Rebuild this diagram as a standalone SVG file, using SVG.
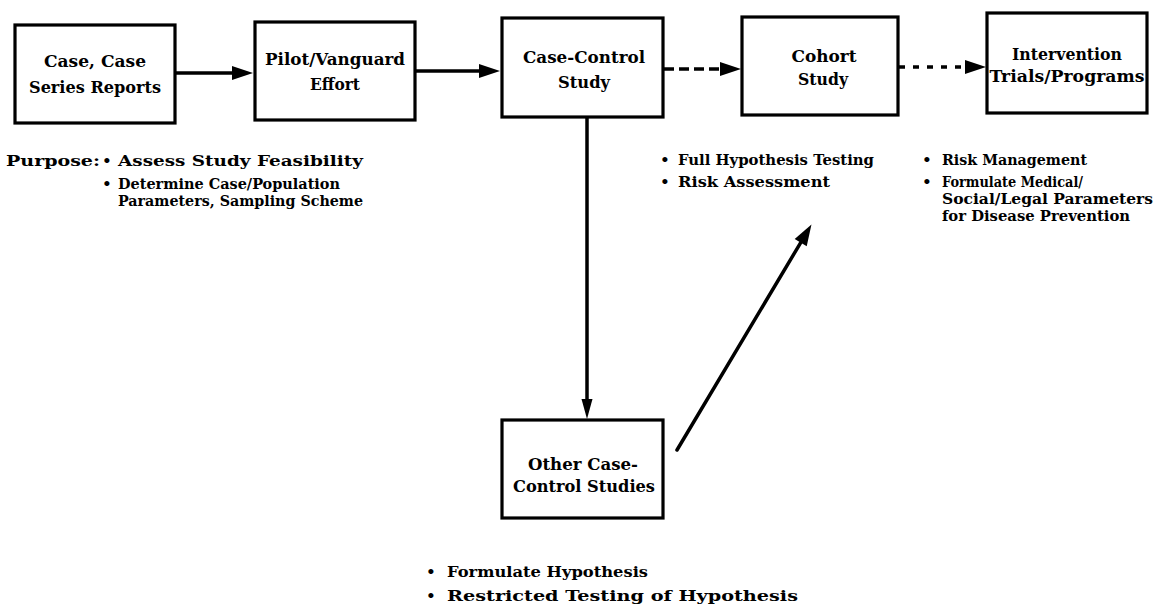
<svg xmlns="http://www.w3.org/2000/svg" width="1170" height="610" viewBox="0 0 1170 610">
<style>
.box{fill:#fff;stroke:#000;stroke-width:3.2}
.lbl{font-family:"DejaVu Serif","Liberation Serif",serif;font-weight:bold;font-size:16px;fill:#000;text-anchor:middle}
.txt{font-family:"DejaVu Serif","Liberation Serif",serif;font-weight:bold;font-size:14.5px;fill:#000}
.bul{font-family:"DejaVu Sans",sans-serif;font-weight:bold;font-size:14.5px;fill:#000;text-anchor:middle}
.con{fill:none;stroke:#000;stroke-width:3.5}
</style>
<defs>
<marker id="ah" markerUnits="userSpaceOnUse" markerWidth="22" markerHeight="16" refX="0" refY="7" orient="auto" overflow="visible">
<path d="M0,0 L21,7 L0,14 z" fill="#000"/>
</marker>
<marker id="ahs" markerUnits="userSpaceOnUse" markerWidth="22" markerHeight="16" refX="0" refY="5.5" orient="auto" overflow="visible">
<path d="M0,0 L20,5.5 L0,11 z" fill="#000"/>
</marker>
</defs>
<rect width="1170" height="610" fill="#fff"/>
<g id="connectors">
<line class="con" x1="175" y1="73" x2="232" y2="73" marker-end="url(#ah)"/>
<line class="con" x1="415" y1="71" x2="479" y2="71" marker-end="url(#ah)"/>
<line class="con" x1="664" y1="69" x2="720" y2="69" stroke-dasharray="10 5" marker-end="url(#ah)"/>
<line class="con" x1="899" y1="67" x2="965" y2="67" stroke-dasharray="6 8" marker-end="url(#ah)"/>
<line class="con" x1="587" y1="118" x2="587" y2="399" marker-end="url(#ahs)"/>
<line class="con" x1="677" y1="450" x2="800.7" y2="242.6" stroke-width="6" stroke-linecap="round" marker-end="url(#ah)"/>
</g>
<g id="case-reports">
<rect class="box" x="15" y="25" width="160" height="98"/>
<text class="lbl" x="95" y="67" textLength="102" lengthAdjust="spacingAndGlyphs">Case, Case</text>
<text class="lbl" x="95" y="93" textLength="132" lengthAdjust="spacingAndGlyphs">Series Reports</text>
</g>
<g id="pilot">
<rect class="box" x="255" y="22" width="160" height="98"/>
<text class="lbl" x="335" y="65" textLength="140" lengthAdjust="spacingAndGlyphs">Pilot/Vanguard</text>
<text class="lbl" x="335" y="90" textLength="50" lengthAdjust="spacingAndGlyphs">Effort</text>
</g>
<g id="case-control">
<rect class="box" x="502" y="18" width="161" height="99"/>
<text class="lbl" x="584" y="63" textLength="122" lengthAdjust="spacingAndGlyphs">Case-Control</text>
<text class="lbl" x="584" y="88" textLength="52" lengthAdjust="spacingAndGlyphs">Study</text>
</g>
<g id="cohort">
<rect class="box" x="742" y="17" width="156" height="98"/>
<text class="lbl" x="824" y="62" textLength="65" lengthAdjust="spacingAndGlyphs">Cohort</text>
<text class="lbl" x="823" y="85" textLength="50" lengthAdjust="spacingAndGlyphs">Study</text>
</g>
<g id="intervention">
<rect class="box" x="987" y="13" width="160" height="100"/>
<text class="lbl" x="1067" y="60" textLength="110" lengthAdjust="spacingAndGlyphs">Intervention</text>
<text class="lbl" x="1067" y="82" textLength="155" lengthAdjust="spacingAndGlyphs">Trials/Programs</text>
</g>
<g id="other-case-control">
<rect class="box" x="502" y="420" width="161" height="98"/>
<text class="lbl" x="583" y="470" textLength="110" lengthAdjust="spacingAndGlyphs">Other Case-</text>
<text class="lbl" x="584" y="492" textLength="142" lengthAdjust="spacingAndGlyphs">Control Studies</text>
</g>
<g id="purpose-notes">
<text class="txt" x="6" y="166" textLength="94" lengthAdjust="spacingAndGlyphs">Purpose:</text>
<text class="bul" x="107" y="166">•</text>
<text class="txt" x="118" y="166" textLength="245" lengthAdjust="spacingAndGlyphs">Assess Study Feasibility</text>
<text class="bul" x="107" y="189">•</text>
<text class="txt" x="118" y="189" textLength="222" lengthAdjust="spacingAndGlyphs">Determine Case/Population</text>
<text class="txt" x="118" y="206" textLength="245" lengthAdjust="spacingAndGlyphs">Parameters, Sampling Scheme</text>
</g>
<g id="cohort-notes">
<text class="bul" x="665" y="165">•</text>
<text class="txt" x="678" y="165" textLength="196" lengthAdjust="spacingAndGlyphs">Full Hypothesis Testing</text>
<text class="bul" x="665" y="187">•</text>
<text class="txt" x="678" y="187" textLength="152" lengthAdjust="spacingAndGlyphs">Risk Assessment</text>
</g>
<g id="intervention-notes">
<text class="bul" x="927" y="165">•</text>
<text class="txt" x="942" y="165" textLength="145" lengthAdjust="spacingAndGlyphs">Risk Management</text>
<text class="bul" x="927" y="187">•</text>
<text class="txt" x="942" y="187" textLength="141" lengthAdjust="spacingAndGlyphs">Formulate Medical/</text>
<text class="txt" x="942" y="204" textLength="211" lengthAdjust="spacingAndGlyphs">Social/Legal Parameters</text>
<text class="txt" x="942" y="221" textLength="188" lengthAdjust="spacingAndGlyphs">for Disease Prevention</text>
</g>
<g id="other-notes">
<text class="bul" x="431" y="577">•</text>
<text class="txt" x="447" y="577" textLength="201" lengthAdjust="spacingAndGlyphs">Formulate Hypothesis</text>
<text class="bul" x="431" y="601">•</text>
<text class="txt" x="447" y="601" textLength="351" lengthAdjust="spacingAndGlyphs">Restricted Testing of Hypothesis</text>
</g>
</svg>
